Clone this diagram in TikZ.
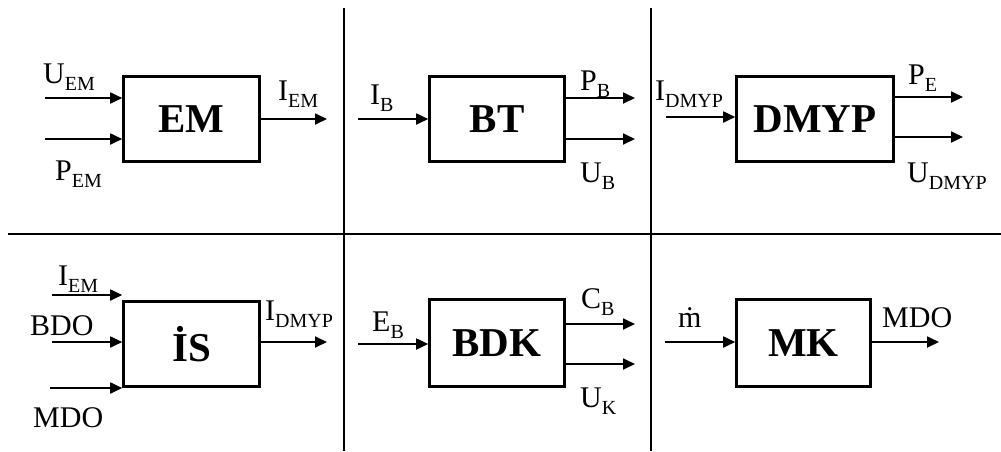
\documentclass[tikz,border=0pt]{standalone}
\usepackage{fontspec}
\setmainfont{Liberation Serif}
\usetikzlibrary{arrows.meta}
\newcommand\lbl[2]{#1\raisebox{-7pt}{\fontsize{20}{20}\selectfont #2}}
\tikzset{
  blk/.style={draw, line width=2.6pt, minimum height=85pt, inner sep=0pt,
    font=\fontsize{41}{41}\selectfont\bfseries},
  arr/.style={line width=1.8pt, -{Triangle[length=12pt,width=11pt]}},
  sep/.style={line width=2.8pt},
  lab/.style={inner sep=0pt, anchor=base west, font=\fontsize{30}{30}\selectfont}
}
\begin{document}
\begin{tikzpicture}[x=1pt,y=-1pt]
\useasboundingbox (0,0) rectangle (1001,451);
% separators
\coordinate (v1t) at (344,8); \coordinate (v1b) at (344,451);
\coordinate (v2t) at (651,8); \coordinate (v2b) at (651,451);
\coordinate (hl) at (8,234); \coordinate (hr) at (1001,234);
\draw[sep] (v1t) -- (v1b);
\draw[sep] (v2t) -- (v2b);
\draw[sep] (hl) -- (hr);
% boxes
\node[blk, minimum width=136pt] (em) at (191.5,119) {EM};
\node[blk, minimum width=135pt] (bt) at (497,119) {BT};
\node[blk, minimum width=157pt] (dmyp) at (815,119) {DMYP};
\node[blk, minimum width=136pt] (is) at (191.5,344) {İS};
\node[blk, minimum width=135pt, minimum height=87pt] (bdk) at (497,343) {BDK};
\node[blk, minimum width=134pt, minimum height=87pt] (mk) at (803.5,343) {MK};
% EM
\coordinate (emi1) at (45,98); \coordinate (emi2) at (45,139); \coordinate (emo) at (327,119);
\draw[arr] (emi1) -- (emi1 -| em.west);
\draw[arr] (emi2) -- (emi2 -| em.west);
\draw[arr] (em.east |- emo) -- (emo);
\node[lab] (lUEM) at (43,83) {\lbl{U}{EM}};
\node[lab] (lPEM) at (55,180) {\lbl{P}{EM}};
\node[lab] (lIEM) at (278,100) {\lbl{I}{EM}};
% BT
\coordinate (bti) at (358,119); \coordinate (bto1) at (635,98); \coordinate (bto2) at (635,139);
\draw[arr] (bti) -- (bti -| bt.west);
\draw[arr] (bt.east |- bto1) -- (bto1);
\draw[arr] (bt.east |- bto2) -- (bto2);
\node[lab] (lIB) at (370,104) {\lbl{I}{B}};
\node[lab] (lPB) at (580,90) {\lbl{P}{B}};
\node[lab] (lUB) at (580,182) {\lbl{U}{B}};
% DMYP
\coordinate (dmi) at (666,117); \coordinate (dmo1) at (963,97); \coordinate (dmo2) at (963,137);
\draw[arr] (dmi) -- (dmi -| dmyp.west);
\draw[arr] (dmyp.east |- dmo1) -- (dmo1);
\draw[arr] (dmyp.east |- dmo2) -- (dmo2);
\node[lab] (lID) at (655,100) {\lbl{I}{DMYP}};
\node[lab] (lPE) at (908,84) {\lbl{P}{E}};
\node[lab] (lUD) at (907,182) {\lbl{U}{DMYP}};
% IS
\coordinate (isi1) at (52,295); \coordinate (isi2) at (52,342); \coordinate (isi3) at (50,388);
\coordinate (iso) at (327,342);
\draw[arr] (isi1) -- (isi1 -| is.west);
\draw[arr] (isi2) -- (isi2 -| is.west);
\draw[arr] (isi3) -- (isi3 -| is.west);
\draw[arr] (is.east |- iso) -- (iso);
\node[lab] (lIEM2) at (58,285) {\lbl{I}{EM}};
\node[lab] (lBDO) at (30,335) {BDO};
\node[lab] (lMDO) at (33,427) {MDO};
\node[lab] (lID2) at (265,320) {\lbl{I}{DMYP}};
% BDK
\coordinate (bdi) at (358,344); \coordinate (bdo1) at (635,324); \coordinate (bdo2) at (635,364);
\draw[arr] (bdi) -- (bdi -| bdk.west);
\draw[arr] (bdk.east |- bdo1) -- (bdo1);
\draw[arr] (bdk.east |- bdo2) -- (bdo2);
\node[lab] (lEB) at (372,331) {\lbl{E}{B}};
\node[lab] (lCB) at (581,308) {\lbl{C}{B}};
\node[lab] (lUK) at (580,407) {\lbl{U}{K}};
% MK
\coordinate (mki) at (665,342); \coordinate (mko) at (939,342);
\draw[arr] (mki) -- (mki -| mk.west);
\draw[arr] (mk.east |- mko) -- (mko);
\node[lab] (lm) at (678,327) {\.{m}};
\node[lab] (lMDO2) at (882,327) {MDO};
\end{tikzpicture}
\end{document}
